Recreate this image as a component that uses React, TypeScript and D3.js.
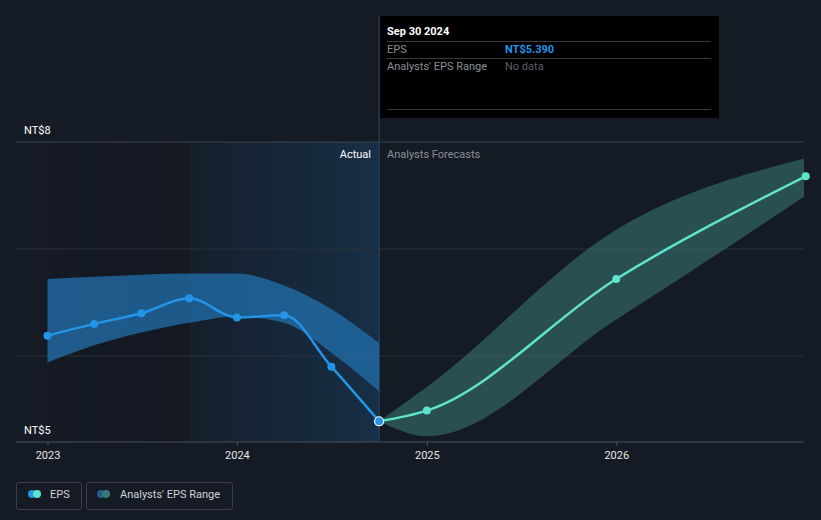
import React from "react";
import * as d3 from "d3";

const W = 821;
const H = 520;

const actualDates = ["2022-12-31", "2023-03-31", "2023-06-30", "2023-09-30", "2023-12-31", "2024-03-31", "2024-06-30", "2024-09-30"];
const actualEps = [6.19, 6.3, 6.4, 6.54, 6.36, 6.38, 5.9, 5.39];
const pastRangeHigh = [6.72, 6.74, 6.76, 6.77, 6.77, 6.66, 6.44, 6.12];
const pastRangeLow = [5.94, 6.1, 6.22, 6.31, 6.37, 6.31, 6.03, 5.67];

const forecastDates = ["2024-09-30", "2024-12-31", "2025-12-31", "2026-12-31"];
const forecastEps = [5.39, 5.49, 6.72, 7.68];
const forecastHigh = [5.39, 5.71, 7.18, 7.85];
const forecastLow = [5.39, 5.25, 6.34, 7.5];

const yTickValues = [8, 5];
const yTickLabels = ["NT$8", "NT$5"];
const xTickYears = [2023, 2024, 2025, 2026];
const gridValues = [8, 7, 6];

const parse = d3.timeParse("%Y-%m-%d");

export default function App() {
  const x = d3
    .scaleTime()
    .domain([new Date(2023, 0, 1), new Date(2026, 0, 1)])
    .range([48, 616.8]);
  const y = d3.scaleLinear().domain([5, 8]).range([463, 142]);

  const left = 16;
  const right = 804;
  const axisY = 442;
  const top = 142;

  const act = actualDates.map((d, i) => ({ d: parse(d)!, v: actualEps[i], hi: pastRangeHigh[i], lo: pastRangeLow[i] }));
  const fc = forecastDates.map((d, i) => ({ d: parse(d)!, v: forecastEps[i], hi: forecastHigh[i], lo: forecastLow[i] }));

  const line = d3
    .line<any>()
    .x((p) => x(p.d))
    .y((p) => y(p.v))
    .curve(d3.curveMonotoneX);
  const area = d3
    .area<any>()
    .x((p) => x(p.d))
    .y0((p) => y(p.lo))
    .y1((p) => y(p.hi))
    .curve(d3.curveMonotoneX);

  const splitX = x(parse("2024-09-30")!);
  const shadeStart = x(parse("2023-09-30")!);

  const font = "Roboto, 'Open Sans', sans-serif";

  return (
    <svg width={W} height={H} style={{ position: "absolute", left: 0, top: 0, display: "block" }} fontFamily={font}>
      <defs>
        <linearGradient id="pastShade" x1="0" x2="1" y1="0" y2="0">
          <stop offset="0" stopColor="#2196f3" stopOpacity={0.03} />
          <stop offset="1" stopColor="#2196f3" stopOpacity={0.16} />
        </linearGradient>
        <linearGradient id="darkShade" x1="0" x2="1" y1="0" y2="0">
          <stop offset="0" stopColor="#000000" stopOpacity={0.0} />
          <stop offset="1" stopColor="#000000" stopOpacity={0.12} />
        </linearGradient>
        <clipPath id="plotClip">
          <rect x={left} y={top} width={right - left} height={axisY - top + 10} />
        </clipPath>
      </defs>
      <rect x={0} y={0} width={W} height={H} fill="#151b25" />

      {/* shaded regions */}
      <rect x={left} y={top} width={shadeStart - left} height={axisY - top} fill="url(#darkShade)" />
      <rect x={shadeStart} y={top} width={splitX - shadeStart} height={axisY - top} fill="url(#pastShade)" />

      {/* grid */}
      {gridValues.map((v) => (
        <line key={v} x1={left} x2={right} y1={y(v)} y2={y(v)} stroke={v === 8 ? "#3b424c" : "#2a313b"} strokeWidth={1} />
      ))}

      {/* split line */}
      <line x1={splitX} x2={splitX} y1={16} y2={axisY} stroke="#2a4a66" strokeWidth={1} />

      <g clipPath="url(#plotClip)">
        <path d={area(act) || ""} fill="#2170ad" fillOpacity={0.75} />
        <path d={area(fc) || ""} fill="#3a7a76" fillOpacity={0.55} />
        <path d={line(act) || ""} fill="none" stroke="#2394e8" strokeWidth={2.5} />
        <path d={line(fc) || ""} fill="none" stroke="#5fe3cc" strokeWidth={2.5} />
      </g>
      {act.slice(0, -1).map((p, i) => (
        <circle key={i} cx={x(p.d)} cy={y(p.v)} r={4} fill="#2394e8" />
      ))}
      {fc.slice(1).map((p, i) => (
        <circle key={i} cx={x(p.d)} cy={y(p.v)} r={4} fill="#5fe3cc" />
      ))}
      <circle cx={splitX} cy={y(5.39)} r={4.5} fill="#2394e8" stroke="#ffffff" strokeWidth={1.2} />

      {/* axis */}
      <line x1={left} x2={right} y1={axisY} y2={axisY} stroke="#4a5059" strokeWidth={1} />
      {xTickYears.map((yr) => {
        const xx = x(new Date(yr, 0, 1));
        return (
          <g key={yr}>
            <line x1={xx} x2={xx} y1={axisY} y2={axisY + 4} stroke="#4a5059" />
            <text x={xx} y={459} textAnchor="middle" fontSize={11} fill="#e6e6e6">
              {yr}
            </text>
          </g>
        );
      })}
      {yTickValues.map((v, i) => (
        <text key={v} x={24} y={v === 8 ? 134 : 434} fontSize={11} fill="#ffffff">
          {yTickLabels[i]}
        </text>
      ))}

      <text x={371} y={158} textAnchor="end" fontSize={11} fill="#ffffff">
        Actual
      </text>
      <text x={387} y={158} fontSize={11} fill="#8a8f96">
        Analysts Forecasts
      </text>

      {/* tooltip */}
      <rect x={380} y={16} width={339} height={102} fill="#000000" />
      <text x={387} y={35} fontSize={11} fontWeight="bold" fill="#ffffff">
        Sep 30 2024
      </text>
      <line x1={387} x2={711} y1={41.5} y2={41.5} stroke="#3a3a3a" />
      <text x={387} y={53} fontSize={11} fill="#8a8f96">
        EPS
      </text>
      <text x={505} y={53} fontSize={11} fontWeight="bold" fill="#2394e8">
        NT$5.390
      </text>
      <line x1={387} x2={711} y1={58.5} y2={58.5} stroke="#3a3a3a" />
      <text x={387} y={70} fontSize={11} fill="#8a8f96">
        Analysts' EPS Range
      </text>
      <text x={505} y={70} fontSize={11} fill="#5a5f66">
        No data
      </text>
      <line x1={387} x2={711} y1={109.5} y2={109.5} stroke="#3a3a3a" />

      {/* legend */}
      <rect x={16.5} y={482.5} width={65} height={27} rx={2} fill="none" stroke="#3a3f47" />
      <circle cx={32} cy={494} r={4} fill="#2394e8" />
      <circle cx={37} cy={494} r={4} fill="#5fe3cc" />
      <text x={50} y={498} fontSize={11} fill="#cfd2d6">
        EPS
      </text>
      <rect x={86.5} y={482.5} width={146} height={27} rx={2} fill="none" stroke="#3a3f47" />
      <circle cx={101} cy={494} r={4} fill="#1f5f8f" />
      <circle cx={106} cy={494} r={4} fill="#3a7a76" />
      <text x={120} y={498} fontSize={11} fill="#cfd2d6">
        Analysts' EPS Range
      </text>
    </svg>
  );
}
